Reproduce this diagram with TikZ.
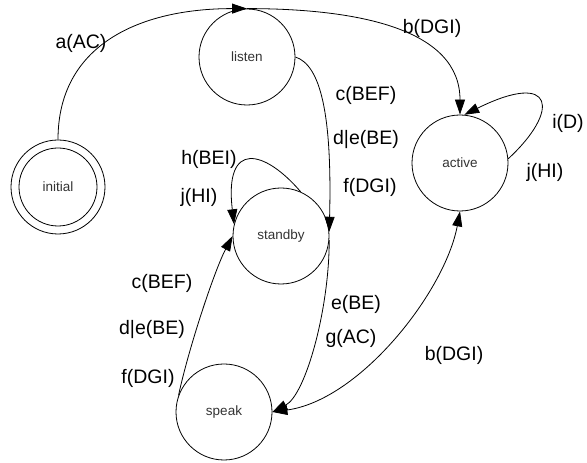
\documentclass[tikz,border=0pt]{standalone}
\usepackage{fontspec}
\setmainfont{Liberation Sans}
\usetikzlibrary{arrows.meta}
\begin{document}
\begin{tikzpicture}[x=1pt,y=1pt,
  state/.style={circle, draw, line width=0.8pt, minimum size=96pt, inner sep=0pt,
    font=\fontsize{13.5}{16}\selectfont, text=black!80},
  trans/.style={line width=0.8pt, -{Triangle[length=15pt,width=10pt]}},
  lbl/.style={font=\fontsize{19.5}{23}\selectfont, inner sep=0pt}]
\useasboundingbox (0,0) rectangle (587,463);

% states
\node[state, minimum size=94pt] (initial) at (58,276) {initial};
\draw[line width=0.8pt] (initial.center) circle[radius=39pt];
\node[state] (listen)  at (247,406) {listen};
\node[state] (active)  at (460,300) {active};
\node[state] (standby) at (281,227) {standby};
\node[state] (speak)   at (224,51)  {speak};

% transitions
\draw[trans] (initial.north) .. controls +(0,95) and +(-107,0) .. (listen.north);
\draw[trans] (listen.north) .. controls +(113,0) and +(0,85) .. (active.north);
\draw[trans] (listen.east) .. controls +(25,-8) and +(3,118) .. (standby.5);
\draw[trans] (standby.-5) .. controls +(0,-70) and +(33,17) .. (speak.east);
\draw[trans] (speak.160) .. controls +(10,47) and +(-18,-34) .. (standby.180);
\draw[trans, {Triangle[length=15pt,width=10pt]}-{Triangle[length=15pt,width=10pt]}]
  (speak.east) .. controls +(88,12) and +(-15,-80) .. (active.south);
\draw[trans] (standby.66) .. controls +(-36,42) and +(-10,85) .. (standby.166);
\draw[trans] (active.5) .. controls +(52,48) and +(91,45) .. (active.85);

% transition labels
\node[lbl] (la)  at (81,420)  {a(AC)};
\node[lbl] (lb1) at (432,435) {b(DGI)};
\node[lbl] (lc1) at (366,368) {c(BEF)};
\node[lbl] (ld1) at (366,323) {d|e(BE)};
\node[lbl] (lf1) at (370,276) {f(DGI)};
\node[lbl] (li)  at (568,340) {i(D)};
\node[lbl] (lj1) at (545,291) {j(HI)};
\node[lbl] (lh)  at (209,304) {h(BEI)};
\node[lbl] (lj2) at (199,266) {j(HI)};
\node[lbl] (lc2) at (162,180) {c(BEF)};
\node[lbl] (ld2) at (152,133) {d|e(BE)};
\node[lbl] (lf2) at (148,85)  {f(DGI)};
\node[lbl] (le)  at (356,159) {e(BE)};
\node[lbl] (lg)  at (351,125) {g(AC)};
\node[lbl] (lb2) at (454,108) {b(DGI)};
\end{tikzpicture}
\end{document}
